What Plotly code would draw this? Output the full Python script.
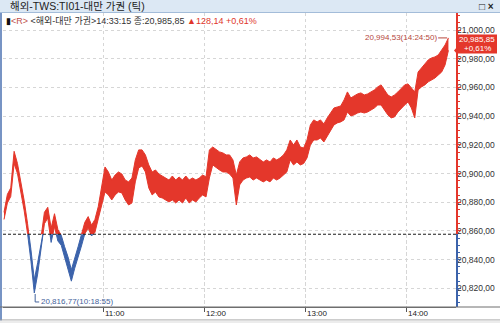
import plotly.graph_objects as go
import pandas as pd

# ---------------- data ----------------
TITLE = "해외-TWS:TI01-대만 가권 (틱)"
NAME = "해외-대만 가권"
LAST_TIME = "14:33:15"
PREV_CLOSE = 20857.71
LAST = 20985.85
CHANGE = 128.14
PCT = 0.61
MAX_V, MAX_T = 20994.53, "2024-05-14 14:24:50"
MIN_V, MIN_T = 20816.77, "2024-05-14 10:18:55"

# 2-minute bins starting 10:01 (KST): high / low of ticks in each bin
hi = [
    20873.0, 20885.5, 20890.0, 20915.5, 20907.0, 20895.0, 20881.0, 20865.0, 20847.0, 20826.0,
    20838.0, 20855.0, 20873.0, 20876.5, 20862.0, 20872.0, 20861.0, 20857.0, 20849.0, 20842.0,
    20833.0, 20842.0, 20849.0, 20857.5, 20866.0, 20870.0, 20864.0, 20868.0, 20877.0, 20892.0,
    20904.6, 20901.1, 20895.5, 20899.0, 20901.1, 20899.7, 20895.5, 20894.2, 20896.9, 20909.5,
    20916.5, 20916.5, 20913.0, 20906.0, 20901.1, 20902.5, 20899.7, 20898.3, 20896.9, 20895.5,
    20898.3, 20895.5, 20897.6, 20895.5, 20898.3, 20895.5, 20896.9, 20895.5, 20896.9, 20899.0,
    20897.6, 20916.5, 20918.5, 20916.5, 20915.1, 20914.4, 20913.0, 20913.0, 20909.5, 20899.0,
    20908.1, 20910.9, 20911.6, 20913.0, 20910.9, 20911.6, 20909.5, 20908.1, 20909.5, 20908.1,
    20910.9, 20909.5, 20910.9, 20913.0, 20916.5, 20923.4, 20919.9, 20923.4, 20918.5, 20917.8,
    20923.4, 20933.9, 20937.4, 20936.0, 20937.4, 20934.6, 20938.8, 20942.2, 20945.7, 20946.4,
    20947.1, 20951.3, 20956.9, 20952.7, 20954.1, 20955.5, 20956.2, 20954.8, 20955.5, 20956.9,
    20958.3, 20960.4, 20961.8, 20958.3, 20954.8, 20953.4, 20954.8, 20956.9, 20959.7, 20961.8,
    20962.5, 20959.7, 20956.9, 20970.8, 20973.6, 20975.7, 20979.2, 20980.6, 20981.3, 20982.7,
    20986.2, 20989.6, 20994.53,
]
lo = [
    20868.0, 20879.5, 20884.0, 20907.0, 20900.0, 20888.0, 20874.0, 20858.0, 20839.0, 20816.77,
    20830.0, 20848.0, 20865.0, 20869.0, 20852.0, 20863.0, 20853.0, 20850.0, 20841.0, 20834.0,
    20825.0, 20834.0, 20841.0, 20849.5, 20858.0, 20862.0, 20856.5, 20859.0, 20868.5, 20878.0,
    20887.2, 20885.1, 20881.6, 20885.1, 20887.2, 20886.5, 20881.6, 20878.1, 20879.5, 20894.2,
    20903.9, 20905.3, 20901.1, 20890.0, 20885.1, 20887.2, 20883.7, 20883.0, 20881.6, 20880.2,
    20881.6, 20879.5, 20881.6, 20879.5, 20883.0, 20879.5, 20881.6, 20880.2, 20883.0, 20885.1,
    20883.7, 20896.9, 20906.0, 20903.9, 20902.5, 20901.1, 20901.1, 20899.7, 20896.9, 20878.1,
    20892.1, 20895.5, 20896.9, 20897.6, 20895.5, 20896.9, 20895.5, 20894.2, 20895.5, 20894.2,
    20896.9, 20895.5, 20896.9, 20899.0, 20901.1, 20909.5, 20906.0, 20908.1, 20906.0, 20907.0,
    20910.9, 20919.9, 20923.4, 20923.4, 20924.8, 20922.0, 20926.2, 20930.4, 20933.9, 20935.3,
    20936.0, 20937.4, 20942.9, 20940.2, 20940.9, 20942.2, 20942.9, 20942.2, 20942.9, 20944.3,
    20945.7, 20947.8, 20947.8, 20944.3, 20940.9, 20938.8, 20939.5, 20942.9, 20945.7, 20947.8,
    20949.9, 20945.7, 20938.8, 20958.3, 20960.4, 20961.8, 20963.9, 20965.2, 20966.6, 20968.7,
    20970.8, 20975.7, 20985.85,
]
times = pd.date_range("2024-05-14 10:01:00", periods=len(hi), freq="2min")

Y_TICKS = [20820, 20840, 20860, 20880, 20900, 20920, 20940, 20960, 20980, 21000]
X_TICKS = ["2024-05-14 11:00", "2024-05-14 12:00", "2024-05-14 13:00", "2024-05-14 14:00"]
X_TICKTEXT = ["11:00", "12:00", "13:00", "14:00"]
X_FIRST, X_FIRST_TEXT = "2024-05-14 10:00", "2024/05/14-10:00"

Y_RANGE = [20807.0, 21011.9]
X_RANGE = ["2024-05-14 10:00:24", "2024-05-14 14:29:30"]

# ---------------- style ----------------
RED = "#e4372b"
BLUE = "#3c63ab"
GRID = "#d6d6d6"
FONT = "Liberation Sans, Noto Sans CJK KR, sans-serif"
W, H = 500, 323
PL, PR, PT, PB = 3, 456, 13, 307


def px(x):
    return (x - PL) / (PR - PL)


def py(y):
    return (PB - y) / (PB - PT)


def fmt(v):
    return f"{v:,.2f}".replace(".", ",")


f = (PREV_CLOSE - Y_RANGE[0]) / (Y_RANGE[1] - Y_RANGE[0])

fig = go.Figure()
for ax, col in (("y2", RED), ("y3", BLUE)):
    fig.add_trace(go.Scatter(x=times, y=lo, mode="lines", line=dict(color=col, width=1),
                             xaxis="x", yaxis=ax, hoverinfo="skip", showlegend=False))
    fig.add_trace(go.Scatter(x=times, y=hi, mode="lines", line=dict(color=col, width=1),
                             fill="tonexty", fillcolor=col,
                             xaxis="x", yaxis=ax, hoverinfo="skip", showlegend=False))

common_side = dict(anchor="x", side="right", showline=True, linewidth=2, ticks="outside",
                   ticklen=3, tickvals=Y_TICKS, showticklabels=False, showgrid=False,
                   zeroline=False, fixedrange=True)

fig.update_layout(
    width=W, height=H, autosize=False,
    margin=dict(l=PL, r=W - PR, t=PT, b=H - PB, pad=0),
    paper_bgcolor="white", plot_bgcolor="rgba(0,0,0,0)",
    showlegend=False,
    font=dict(family=FONT, size=9, color="#333"),
    xaxis=dict(type="date", range=X_RANGE, anchor="y", showgrid=True, gridcolor=GRID,
               griddash="dot", gridwidth=1, tickvals=X_TICKS, showticklabels=False,
               ticks="outside", ticklen=4, tickcolor="#555", showline=True,
               linecolor="#6e6e6e", linewidth=1, zeroline=False),
    yaxis=dict(domain=[0, 1], range=Y_RANGE, anchor="x", side="right", showgrid=True,
               gridcolor=GRID, griddash="dot", tickvals=Y_TICKS,
               ticktext=[fmt(v) for v in Y_TICKS], ticks="", showline=False,
               zeroline=False, tickfont=dict(family=FONT, size=8.5, color="#333")),
    yaxis2=dict(domain=[f, 1], range=[PREV_CLOSE, Y_RANGE[1]], linecolor=RED, tickcolor=RED,
                minor=dict(ticks="outside", ticklen=2, dtick=5, tickcolor=RED), **common_side),
    yaxis3=dict(domain=[0, f], range=[Y_RANGE[0], PREV_CLOSE], linecolor=BLUE, tickcolor=BLUE,
                minor=dict(ticks="outside", ticklen=2, dtick=5, tickcolor=BLUE), **common_side),
)

shapes = [
    # title bar
    dict(type="rect", xref="paper", yref="paper", x0=px(0), x1=px(W), y0=py(12.5), y1=py(0),
         fillcolor="#dce8f4", line=dict(width=0), layer="below"),
    dict(type="line", xref="paper", yref="paper", x0=px(0), x1=px(W), y0=py(12.5), y1=py(12.5),
         line=dict(color="#a3bcd9", width=1)),
    # left window border
    dict(type="rect", xref="paper", yref="paper", x0=px(0), x1=px(2), y0=py(321), y1=py(13),
         fillcolor="#7794c4", line=dict(width=0)),
    # axis band lines
    dict(type="line", xref="paper", yref="paper", x0=px(0), x1=px(W), y0=py(307), y1=py(307),
         line=dict(color="#6e6e6e", width=1)),
    dict(type="line", xref="paper", yref="paper", x0=px(0), x1=px(W), y0=py(320), y1=py(320),
         line=dict(color="#9a9a9a", width=1)),
    dict(type="rect", xref="paper", yref="paper", x0=px(0), x1=px(W), y0=py(323), y1=py(320.5),
         fillcolor="#ececec", line=dict(width=0)),
    # previous close dashed line
    dict(type="line", xref="paper", x0=0, x1=1, yref="y", y0=PREV_CLOSE, y1=PREV_CLOSE,
         line=dict(color="#1a1a1a", width=1, dash="3px,2px"), layer="above"),
    # max leader line
    dict(type="line", xref="x", xsizemode="pixel", xanchor=MAX_T, x0=-10, x1=-1,
         yref="y", y0=MAX_V, y1=MAX_V, line=dict(color="#b5473c", width=1)),
    # min bracket
    dict(type="path", xref="x", xsizemode="pixel", xanchor=MIN_T,
         yref="y", ysizemode="pixel", yanchor=MIN_V, path="M 1,-1 L 1,-9 L 5,-9",
         line=dict(color="#44639b", width=1)),
    # last-price box with notch
    dict(type="rect", xref="paper", xsizemode="pixel", xanchor=1.0, x0=1, x1=41,
         yref="y", ysizemode="pixel", yanchor=LAST, y0=-3, y1=16,
         fillcolor=RED, line=dict(width=0)),
    dict(type="path", xref="paper", xsizemode="pixel", xanchor=1.0,
         yref="y", ysizemode="pixel", yanchor=LAST, path="M -2,0 L 1.5,4 L 1.5,-4 Z",
         fillcolor=RED, line=dict(width=0)),
]
fig.update_layout(shapes=shapes)

ann = []
ann.append(dict(xref="paper", yref="paper", x=px(8), y=py(6.5), xanchor="left", yanchor="middle",
                text=TITLE, showarrow=False, font=dict(family=FONT, size=10.5, color="#222")))
ann.append(dict(xref="paper", yref="paper", x=px(487), y=py(6.5), xanchor="center",
                yanchor="middle", text="<b>□ ×</b>", showarrow=False,
                font=dict(family=FONT, size=10, color="#222")))
info = (f"<span style='color:#111'>▮</span><span style='color:#c0504d'>&lt;R&gt;</span> "
        f"&lt;{NAME}&gt;{LAST_TIME} 종:{fmt(LAST)} "
        f"<span style='color:#e0352b'>▲{fmt(CHANGE)} +{fmt(PCT)}%</span>")
ann.append(dict(xref="paper", yref="paper", x=px(4), y=py(20.5), xanchor="left", yanchor="middle",
                text=info, showarrow=False, font=dict(family=FONT, size=9, color="#333")))
ann.append(dict(xref="x", yref="paper", x=X_FIRST, y=py(313.5), xanchor="left", yanchor="middle",
                text=X_FIRST_TEXT, showarrow=False, xshift=0,
                font=dict(family=FONT, size=8, color="#222")))
for t, s in zip(X_TICKS, X_TICKTEXT):
    ann.append(dict(xref="x", yref="paper", x=t, y=py(313.5), xanchor="left", yanchor="middle",
                    text=s, showarrow=False, xshift=0,
                    font=dict(family=FONT, size=8, color="#222")))
ann.append(dict(xref="x", yref="y", x=MAX_T, y=MAX_V, xanchor="right", yanchor="middle",
                text=f"{fmt(MAX_V)}({MAX_T[-8:]})", showarrow=False, xshift=-9,
                font=dict(family=FONT, size=8, color="#b5473c")))
ann.append(dict(xref="x", yref="y", x=MIN_T, y=MIN_V, xanchor="left", yanchor="middle",
                text=f"{fmt(MIN_V)}({MIN_T[-8:]})", showarrow=False, xshift=5, yshift=-9,
                font=dict(family=FONT, size=8, color="#44639b")))
ann.append(dict(xref="paper", yref="y", x=px(477), y=LAST, xanchor="center", yanchor="middle",
                text=fmt(LAST), showarrow=False, borderpad=0, yshift=11,
                font=dict(family=FONT, size=8, color="white")))
ann.append(dict(xref="paper", yref="y", x=px(477), y=LAST, xanchor="center", yanchor="middle",
                text=f"+{fmt(PCT)}%", showarrow=False, borderpad=0, yshift=2,
                font=dict(family=FONT, size=8, color="white")))
fig.update_layout(annotations=ann)

fig.write_html("out.html")
